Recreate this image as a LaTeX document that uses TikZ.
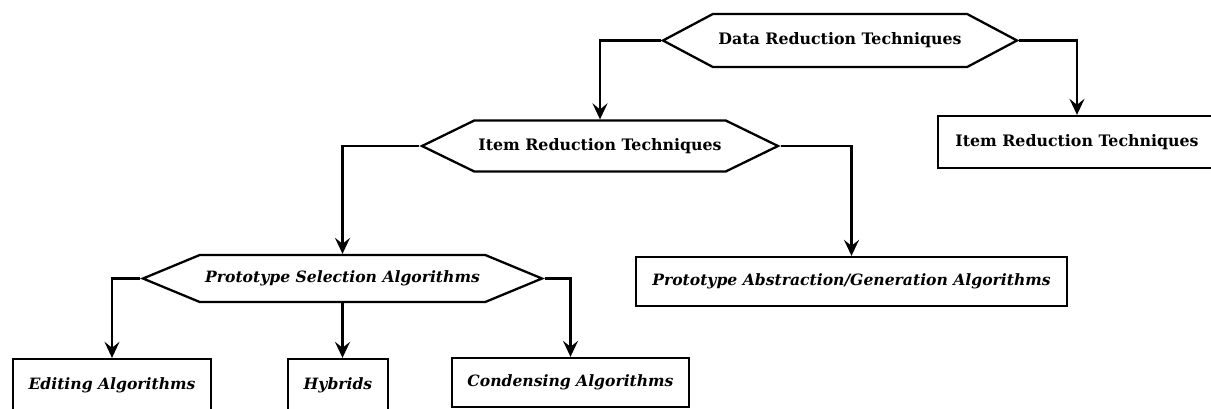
\documentclass[tikz,border=0pt]{standalone}
\usepackage{fontspec}
\setmainfont{DejaVu Serif}
\usetikzlibrary{shapes.symbols,arrows.meta}
\begin{document}
\begin{tikzpicture}[x=1pt,y=-1pt,
  lbl/.style={font=\bfseries\fontsize{15.8}{18}\selectfont, text=black},
  ilbl/.style={font=\bfseries\itshape\fontsize{15.6}{18}\selectfont, text=black},
  hexnode/.style={signal, signal to=east and west, draw, line width=2.3pt, inner sep=0pt, fill=white},
  boxnode/.style={rectangle, draw, line width=2.3pt, inner sep=0pt, fill=white},
  conn/.style={line width=2.3pt, -{Stealth[length=16pt,width=15pt,inset=6pt]}}
]
\useasboundingbox (0,0) rectangle (1211,408);
\fill[white] (0,0) rectangle (1211,408);
\node[hexnode, lbl, minimum width=354pt, minimum height=53pt, signal pointer angle=56] (data) at (840,40.5) {Data Reduction Techniques};
\node[hexnode, lbl, minimum width=356pt, minimum height=51pt, signal pointer angle=52] (itemhex) at (600,146) {Item Reduction Techniques};
\node[hexnode, ilbl, minimum width=399pt, minimum height=47pt, signal pointer angle=45] (pshex) at (342.5,278.5) {Prototype Selection Algorithms};
\node[boxnode, lbl, minimum width=278pt, minimum height=52pt] (rbox) at (1077,142) {Item Reduction Techniques};
\node[boxnode, ilbl, minimum width=431pt, minimum height=49pt] (absbox) at (851.5,281.5) {Prototype Abstraction/Generation Algorithms};
\node[boxnode, ilbl, minimum width=198pt, minimum height=52pt] (editing) at (112,385) {Editing Algorithms};
\node[boxnode, ilbl, minimum width=100pt, minimum height=52pt] (hybrids) at (338,385) {Hybrids};
\node[boxnode, ilbl, minimum width=237pt, minimum height=49pt] (condensing) at (570.5,382.5) {Condensing Algorithms};
\draw[conn] (data.west) -| (itemhex.north);
\draw[conn] (data.east) -| (rbox.north);
\draw[conn] (itemhex.west) -| (pshex.north);
\draw[conn] (itemhex.east) -| (absbox.north);
\draw[conn] (pshex.west) -| (editing.north);
\draw[conn] (pshex.south) -- (pshex.south |- hybrids.north);
\draw[conn] (pshex.east) -| (condensing.north);
\end{tikzpicture}
\end{document}
